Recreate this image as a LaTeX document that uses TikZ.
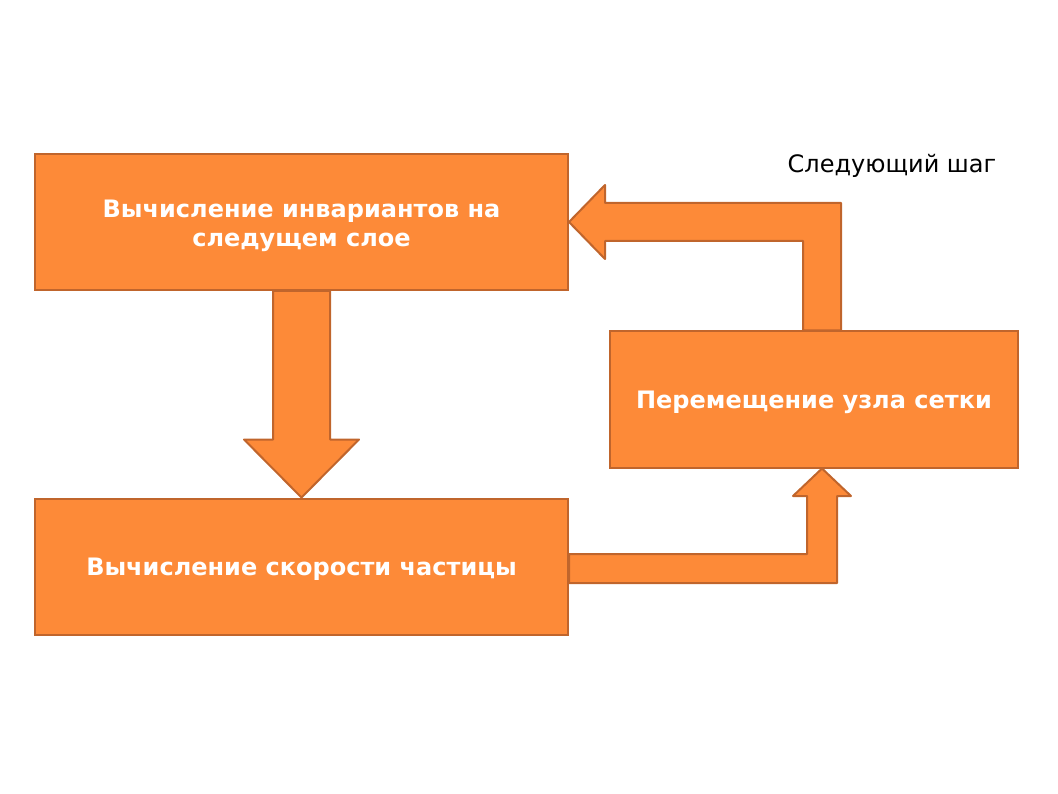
\documentclass[tikz,border=0pt]{standalone}
\usepackage{fontspec}
\setmainfont{DejaVu Sans}
\usepackage{xcolor}
\usetikzlibrary{calc}

\definecolor{boxfill}{HTML}{FD8A38}
\definecolor{boxline}{HTML}{C0652C}

\tikzset{
  stepbox/.style={draw=boxline, fill=boxfill, line width=2pt, text=white,
    font=\fontsize{24}{29}\selectfont\bfseries, align=center,
    inner sep=0pt, minimum height=136pt, text height=24pt, text depth=6pt},
  blockarrow/.style={draw=boxline, fill=boxfill, line width=2pt, line join=round}
}

\begin{document}
\begin{tikzpicture}[x=1pt, y=-1pt]
          \useasboundingbox (0,0) rectangle (1058,794);

          % the three steps
          \node[stepbox, minimum width=533pt, text height=56pt] (calcinv) at (301.5,222)
            {Вычисление инвариантов на\\ следущем слое};
          \node[stepbox, minimum width=533pt] (calcvel) at (301.5,566.5)
            {Вычисление скорости частицы};
          \node[stepbox, minimum width=408pt] (movenode) at (814,399.5)
            {Перемещение узла сетки};

          % down arrow
          \draw[blockarrow] ($(calcinv.south)+(-28.5,0)$) -- ($(calcvel.north)+(-28.5,-58)$)
            -- ($(calcvel.north)+(-57.5,-58)$) -- (calcvel.north)
            -- ($(calcvel.north)+(57.5,-58)$) -- ($(calcvel.north)+(28.5,-58)$)
            -- ($(calcinv.south)+(28.5,0)$) -- cycle;

          % up arrow
          \draw[blockarrow] (calcvel.east |- 0,554) -- (807,554) -- (807,496)
            -- (793,496) -- ($(movenode.south)+(8,0)$) -- (851,496) -- (837,496)
            -- (837,583) -- (calcvel.east |- 0,583) -- cycle;

          % back arrow
          \draw[blockarrow] ($(movenode.north)+(-11,0)$) -- (803,241) -- (605,241)
            -- (605,259) -- (calcinv.east) -- (605,185) -- (605,203) -- (841,203)
            -- ($(movenode.north)+(27,0)$) -- cycle;

          \node[font=\fontsize{24}{28}\selectfont] (nextstep) at (892,166) {Следующий шаг};
\end{tikzpicture}
\end{document}
